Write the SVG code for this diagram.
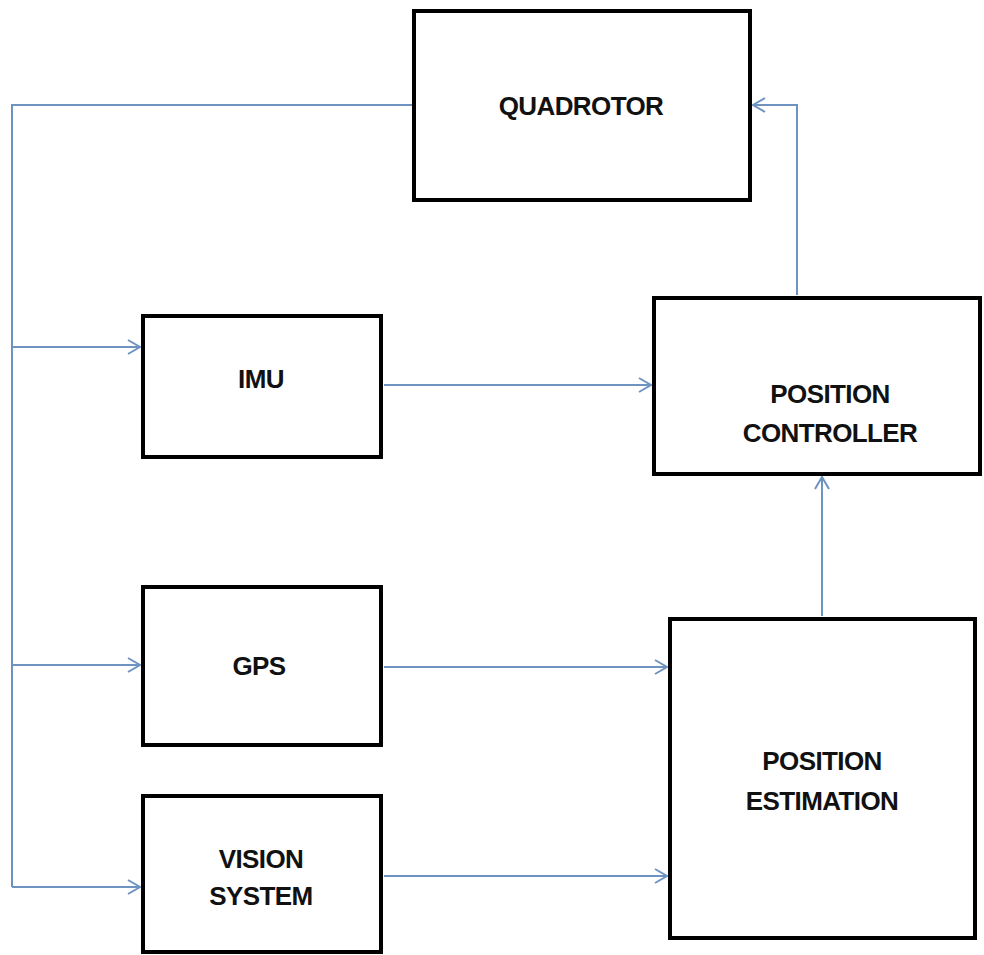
<svg xmlns="http://www.w3.org/2000/svg" width="984" height="955" viewBox="0 0 984 955">
<style>
.box{fill:#fff;stroke:#000;stroke-width:4}
.lbl{font-family:"Liberation Sans",Arial,sans-serif;font-weight:bold;font-size:26px;fill:#111;text-anchor:middle;letter-spacing:-0.6px}
.con{fill:none;stroke:#6f93c0;stroke-width:2}
</style>
<defs>
<marker id="arr" markerWidth="16" markerHeight="16" refX="14" refY="8" orient="auto" markerUnits="userSpaceOnUse">
<path d="M2,1 L14,8 L2,15" fill="none" stroke="#6f93c0" stroke-width="2"/>
</marker>
</defs>
<rect width="984" height="955" fill="#fff"/>
<g id="connectors">
<polyline class="con" points="413,105 12,105 12,887"/>
<line class="con" x1="12" y1="347" x2="140" y2="347" marker-end="url(#arr)"/>
<line class="con" x1="12" y1="665" x2="140" y2="665" marker-end="url(#arr)"/>
<line class="con" x1="12" y1="887" x2="140" y2="887" marker-end="url(#arr)"/>
<line class="con" x1="384" y1="385" x2="651" y2="385" marker-end="url(#arr)"/>
<line class="con" x1="384" y1="667" x2="667" y2="667" marker-end="url(#arr)"/>
<line class="con" x1="384" y1="876" x2="667" y2="876" marker-end="url(#arr)"/>
<polyline class="con" points="797,295 797,105 753,105" marker-end="url(#arr)"/>
<line class="con" x1="822" y1="616" x2="822" y2="477" marker-end="url(#arr)"/>
</g>
<g id="quadrotor">
<rect class="box" x="414" y="11" width="336" height="189"/>
<text class="lbl" x="581" y="115">QUADROTOR</text>
</g>
<g id="imu">
<rect class="box" x="143" y="316" width="238" height="141"/>
<text class="lbl" x="261" y="388">IMU</text>
</g>
<g id="position-controller">
<rect class="box" x="654" y="298" width="326" height="176"/>
<text class="lbl" x="830" y="403">POSITION</text>
<text class="lbl" x="830" y="442">CONTROLLER</text>
</g>
<g id="gps">
<rect class="box" x="143" y="587" width="238" height="158"/>
<text class="lbl" x="259" y="675">GPS</text>
</g>
<g id="vision-system">
<rect class="box" x="143" y="796" width="238" height="156"/>
<text class="lbl" x="261" y="868">VISION</text>
<text class="lbl" x="261" y="905">SYSTEM</text>
</g>
<g id="position-estimation">
<rect class="box" x="670" y="619" width="305" height="319"/>
<text class="lbl" x="822" y="770">POSITION</text>
<text class="lbl" x="822" y="810">ESTIMATION</text>
</g>
</svg>
